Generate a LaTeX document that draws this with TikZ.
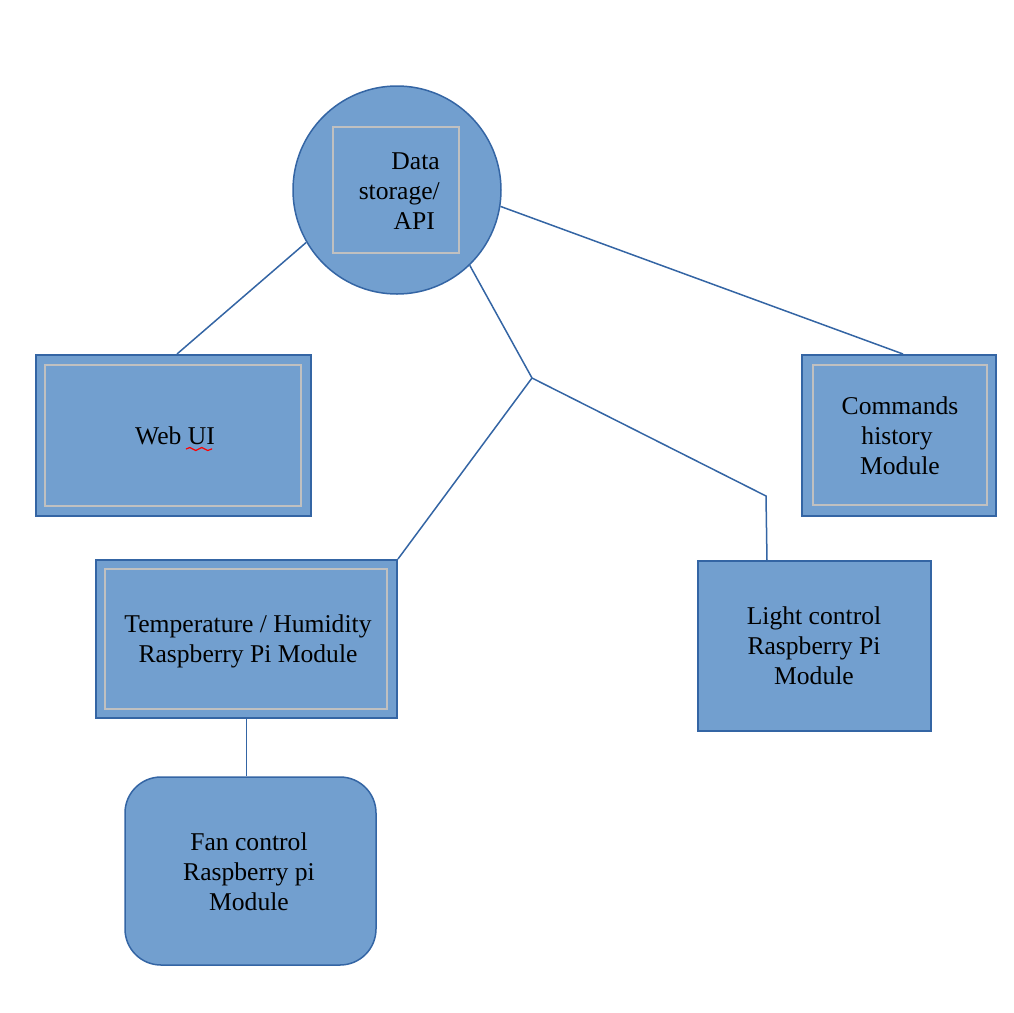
\documentclass[tikz,border=0pt]{standalone}
\usepackage{fontspec}
\setmainfont{Liberation Serif}
\usetikzlibrary{decorations.pathmorphing}
\definecolor{fillblue}{RGB}{114,159,207}
\definecolor{edgeblue}{RGB}{52,101,164}
\definecolor{framegray}{RGB}{192,192,192}
\tikzset{
  box/.style={draw=edgeblue, fill=fillblue, line width=2pt, rectangle, inner sep=0pt},
  frame/.style={draw=framegray, line width=2pt},
  conn/.style={draw=edgeblue, line width=1.5pt},
  txt/.style={font=\fontsize{25.6pt}{30pt}\selectfont, align=center, inner sep=0pt, text=black},
}
\begin{document}
\begin{tikzpicture}[x=1pt,y=-1pt]
\useasboundingbox (0,0) rectangle (1013,1013);

% Data storage circle
\node[circle, draw=edgeblue, fill=fillblue, line width=1.5pt, minimum size=208pt, inner sep=0pt] (dat) at (397,190) {};
\draw[frame] (333,127) rectangle (459,253);
\node[txt, align=right, anchor=east] (datlbl) at (440,191) {Data\\storage/\\API\rule{5pt}{0pt}};

% Web UI
\node[box, minimum width=275pt, minimum height=161pt] (web) at (173.5,435.5) {};
\draw[frame] (45,365) rectangle (301,506);
\node[txt] (weblbl) at (175,436) {Web UI};
\draw[red, line width=1.2pt, decorate, decoration={snake, amplitude=1.5pt, segment length=12pt}] (186,449) -- (212,449);

% Commands history
\node[box, minimum width=194pt, minimum height=161pt] (cmd) at (899,435.5) {};
\draw[frame] (813,365) rectangle (987,505);
\node[txt] (cmdlbl) at (900,436) {Commands\\history\rule{6pt}{0pt}\\ Module};

% Temperature / Humidity
\node[box, minimum width=301pt, minimum height=158pt] (temp) at (246.5,639) {};
\draw[frame] (105,569) rectangle (387,709);
\node[txt] (templbl) at (248,641) {Temperature / Humidity\\Raspberry Pi Module};

% Light control
\node[box, line width=1.5pt, minimum width=233pt, minimum height=170pt] (light) at (814.5,646) {};
\node[txt] (lightlbl) at (814,646) {Light control\\Raspberry Pi\\Module};

% Fan control
\node[box, line width=1.5pt, rounded corners=36pt, minimum width=251pt, minimum height=188pt] (fan) at (250.5,871) {};
\node[txt] (fanlbl) at (249,872) {Fan control\\Raspberry pi\\Module};

% junctions
\coordinate (j) at (532,378);
\coordinate (k) at (766,496);

% connectors
\draw[conn] (dat.210.6) -- ([xshift=3.5pt]web.north);
\draw[conn] (dat.351.2) -- ([xshift=4pt]cmd.north);
\draw[conn] (dat.314.2) -- (j);
\draw[conn] (j) -- (temp.north east);
\draw[conn] (j) -- (k) -- ([xshift=-47.5pt]light.north);
\draw[conn] (temp.south) -- (temp.south |- fan.north);
\end{tikzpicture}
\end{document}
